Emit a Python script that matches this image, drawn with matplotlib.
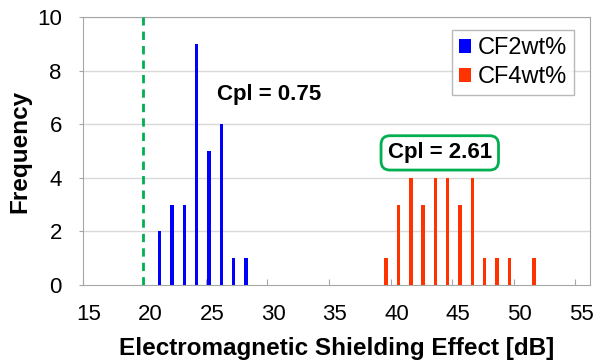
import matplotlib
matplotlib.use("Agg")
import matplotlib.pyplot as plt
from matplotlib.transforms import ScaledTranslation

plt.rcParams['font.family'] = ['Liberation Sans', 'DejaVu Sans']

# measured shielding values [dB] and counts
cf2_x = [21.25, 22.25, 23.25, 24.25, 25.25, 26.25, 27.25, 28.25]
cf2_n = [2, 3, 3, 9, 5, 6, 1, 1]
cf4_x = [39.65, 40.65, 41.65, 42.65, 43.65, 44.65, 45.65, 46.65, 47.65, 48.65, 49.65, 51.65]
cf4_n = [1, 3, 4, 3, 4, 4, 3, 4, 1, 1, 1, 1]
spec_limit = 19.9
xticks = [15, 20, 25, 30, 35, 40, 45, 50, 55]
yticks = [0, 2, 4, 6, 8, 10]

fig = plt.figure(figsize=(5.98, 3.62), dpi=100)
ax = fig.add_axes([0.1383, 0.2127, 0.8483, 0.7403])

grey = '#a6a6a6'
for y in yticks[1:]:
    ax.axhline(y, color='#d9d9d9', lw=1, zorder=0)

ax.bar(cf2_x, cf2_n, width=0.27, color='#0000ff', label='CF2wt%', zorder=3)
ax.bar(cf4_x, cf4_n, width=0.28, color='#ff3300', label='CF4wt%', zorder=3)
ax.axvline(spec_limit, color='#00b050', lw=2, ls=(0, (3, 2.2)), zorder=4)

ax.set_xlim(15, 56.2)
ax.set_ylim(0, 10)
ax.set_xticks(xticks)
ax.set_yticks(yticks)
ax.tick_params(axis='x', direction='in', length=4, color=grey, labelsize=16, pad=14)
ax.tick_params(axis='y', direction='out', length=3, color=grey, labelsize=16, pad=12)
for lab in ax.get_xticklabels():
    lab.set_transform(lab.get_transform() + ScaledTranslation(0.06, 0, fig.dpi_scale_trans))
for s in ax.spines.values():
    s.set_color(grey)

ax.set_xlabel('Electromagnetic Shielding Effect [dB]', fontsize=17.5, fontweight='bold', labelpad=8)
ax.set_ylabel('Frequency', fontsize=17.5, fontweight='bold', labelpad=4)

ax.text(30.1, 7.09, 'Cpl = 0.75', fontsize=16, fontweight='bold', ha='center', va='center')
ax.text(44.0, 4.93, 'Cpl = 2.61', fontsize=16, fontweight='bold', ha='center', va='center',
        bbox=dict(boxstyle='round,pad=0.3,rounding_size=0.4', fc='white', ec='#00b050', lw=2))

leg = ax.legend(loc='upper right', bbox_to_anchor=(0.9685, 0.951), fontsize=17, frameon=True,
                fancybox=False, handlelength=0.5, handleheight=0.5, handletextpad=0.3,
                borderpad=0.3, labelspacing=0.3, borderaxespad=0)
leg.get_frame().set_edgecolor(grey)
leg.get_frame().set_linewidth(1)

fig.savefig('out.png', dpi=100)
